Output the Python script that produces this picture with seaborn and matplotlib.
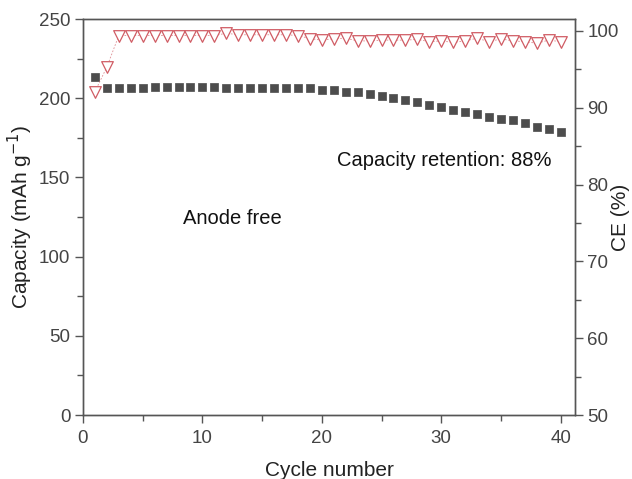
import numpy as np
import pandas as pd
import matplotlib
matplotlib.use("Agg")
import matplotlib.pyplot as plt
import seaborn as sns
from matplotlib.ticker import MultipleLocator

cycles = list(range(1, 41))
capacity = [213.6, 206.6, 206.6, 206.6, 206.6, 207.3, 207.3, 207.3, 207.3, 206.8,
            206.8, 206.6, 206.6, 206.6, 206.6, 206.6, 206.6, 206.6, 206.6, 205.2,
            205.2, 204.1, 204.1, 202.7, 201.4, 200.3, 198.9, 197.8, 195.7, 194.6,
            192.5, 191.0, 189.8, 188.3, 187.0, 186.2, 184.1, 182.0, 180.6, 178.9]
ce = [92.1, 95.3, 99.4, 99.4, 99.4, 99.4, 99.4, 99.4, 99.4, 99.4,
      99.4, 99.7, 99.5, 99.5, 99.5, 99.5, 99.5, 99.4, 99.0, 98.8,
      99.0, 99.05, 98.7, 98.7, 98.8, 98.8, 98.8, 98.9, 98.6, 98.7,
      98.5, 98.7, 99.05, 98.6, 98.96, 98.7, 98.6, 98.4, 98.8, 98.6]

df = pd.DataFrame({"cycle": cycles, "capacity": capacity, "ce": ce})

sns.set_style("ticks")
plt.rcParams['font.family'] = ['Liberation Sans', 'DejaVu Sans']

fig = plt.figure(figsize=(6.32, 4.79), dpi=100)
ax = fig.add_axes([0.1313, 0.1336, 0.7785, 0.8267])
ax2 = ax.twinx()

sq_color = "#4d4d4d"
tri_color = "#d05c64"

sns.scatterplot(data=df, x="cycle", y="capacity", ax=ax, marker="s", s=38,
                color=sq_color, edgecolor=sq_color, linewidth=0.5, zorder=3)
sns.lineplot(data=df, x="cycle", y="ce", ax=ax2, color=tri_color, linewidth=0.6,
             linestyle=(0, (2, 2)), alpha=0.7, zorder=2)
sns.scatterplot(data=df, x="cycle", y="ce", ax=ax2, marker="v", s=70,
                facecolor="white", edgecolor=tri_color, linewidth=0.9, zorder=3)

ax.set_xlim(0, 41.2)
ax.set_ylim(0, 250)
ax2.set_ylim(50, 101.55)

ax.xaxis.set_major_locator(MultipleLocator(10))
ax.xaxis.set_minor_locator(MultipleLocator(5))
ax.yaxis.set_major_locator(MultipleLocator(50))
ax.yaxis.set_minor_locator(MultipleLocator(25))
ax2.yaxis.set_major_locator(MultipleLocator(10))
ax2.yaxis.set_minor_locator(MultipleLocator(5))

spine_c = "#555555"
for a in (ax, ax2):
    for s in a.spines.values():
        s.set_color(spine_c)
        s.set_linewidth(1.0)
        s.set_visible(True)
    a.tick_params(which="major", direction="out", length=6, width=1, color=spine_c,
                  labelsize=13.5, labelcolor="#444444", pad=3)
    a.tick_params(which="minor", direction="out", length=4, width=1, color=spine_c)

ax.tick_params(axis="x", which="both", top=False)
ax.tick_params(axis="x", which="major", pad=5)
ax.tick_params(axis="y", which="both", right=False)
ax2.tick_params(axis="y", which="both", left=False, right=True)

ax.set_xlabel("Cycle number", fontsize=15, color="#222222", labelpad=10)
ax.set_ylabel("Capacity (mAh g$^{-1}$)", fontsize=15, color="#222222", labelpad=3)
ax2.set_ylabel("CE (%)", fontsize=15, color="#222222")
ax2.yaxis.set_label_coords(1.074, 0.5)

ax.text(0.517, 0.643, "Capacity retention: 88%", transform=ax.transAxes,
        fontsize=14.5, color="#111111", ha="left", va="center")
ax.text(0.203, 0.497, "Anode free", transform=ax.transAxes,
        fontsize=14.5, color="#111111", ha="left", va="center")

fig.savefig("out.png", dpi=100)
